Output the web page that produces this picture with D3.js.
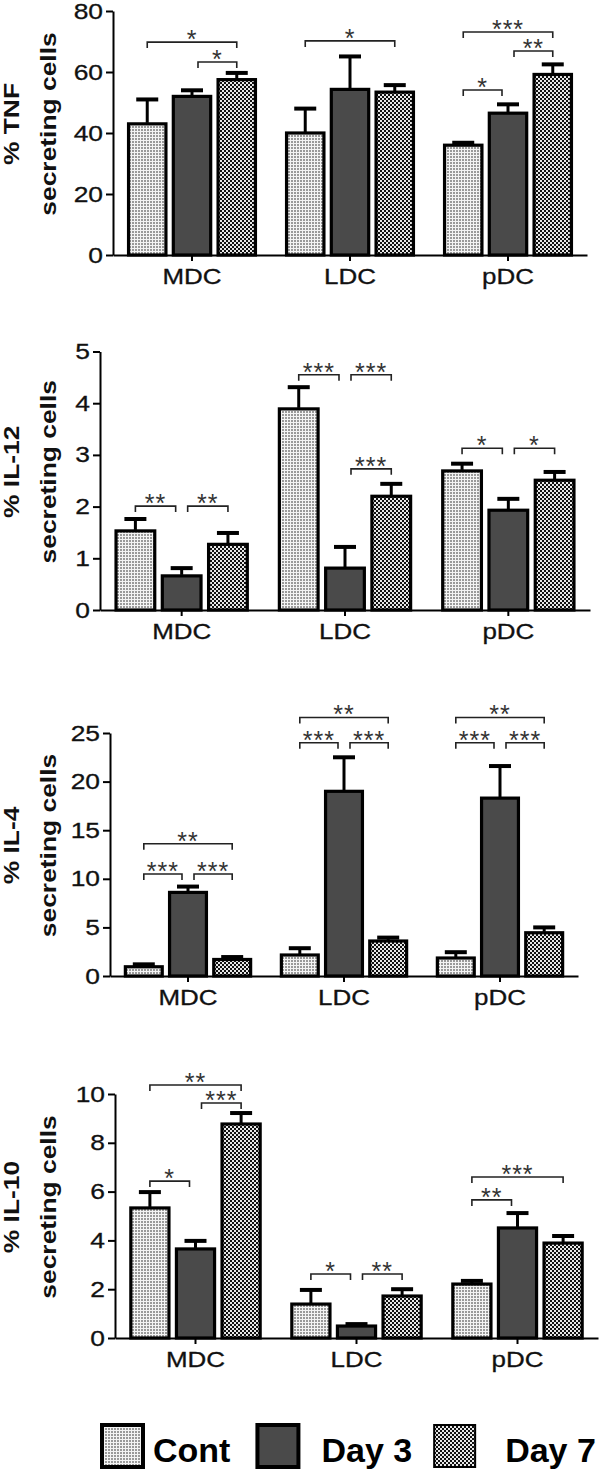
<!DOCTYPE html>
<html><head><meta charset="utf-8">
<script src="https://cdn.jsdelivr.net/npm/d3@7"></script>
<style>body{margin:0;background:#fff}svg{display:block}</style>
</head><body>
<svg id="c" width="600" height="1474"></svg>
<script>
// ---------------- data ----------------
const groups = ["MDC", "LDC", "pDC"];
const series = ["Cont", "Day 3", "Day 7"];

const titleLine1 = ["% TNF", "% IL-12", "% IL-4", "% IL-10"];
const titleLine2 = ["secreting cells", "secreting cells", "secreting cells", "secreting cells"];

const tnfTicks = [0, 20, 40, 60, 80];
const il12Ticks = [0, 1, 2, 3, 4, 5];
const il4Ticks = [0, 5, 10, 15, 20, 25];
const il10Ticks = [0, 2, 4, 6, 8, 10];

// means [group][series]
const tnfMean = [[43, 52, 57.5], [40, 54.3, 53.4], [36, 46.5, 59.2]];
const tnfSem = [[8, 2, 2.2], [8, 10.8, 2.3], [0.8, 2.9, 3.3]];
const il12Mean = [[1.53, 0.66, 1.27], [3.89, 0.81, 2.2], [2.69, 1.93, 2.51]];
const il12Sem = [[0.23, 0.15, 0.22], [0.42, 0.41, 0.24], [0.14, 0.22, 0.16]];
const il4Mean = [[0.95, 8.6, 1.7], [2.16, 19.0, 3.6], [1.85, 18.3, 4.45]];
const il4Sem = [[0.25, 0.6, 0.25], [0.7, 3.5, 0.35], [0.6, 3.3, 0.55]];
const il10Mean = [[5.33, 3.65, 8.77], [1.39, 0.49, 1.72], [2.21, 4.51, 3.89]];
const il10Sem = [[0.65, 0.33, 0.45], [0.58, 0.08, 0.28], [0.13, 0.61, 0.29]];

// significance brackets: [group, seriesA, seriesB, level (data units), label]
const tnfSig = [[0, 0, 2, 69.8, "*"], [0, 1, 2, 63.3, "*"], [1, 0, 2, 70.2, "*"],
                [2, 0, 2, 73.1, "***"], [2, 1, 2, 66.9, "**"], [2, 0, 1, 54.1, "*"]];
const il12Sig = [[0, 0, 1, 2.01, "**"], [0, 1, 2, 2.01, "**"],
                 [1, 0, 1, 4.55, "***"], [1, 1, 2, 4.55, "***"], [1, 1, 2, 2.73, "***"],
                 [2, 0, 1, 3.13, "*"], [2, 1, 2, 3.13, "*"]];
const il4Sig = [[0, 0, 2, 13.6, "**"], [0, 0, 1, 10.5, "***"], [0, 1, 2, 10.5, "***"],
                [1, 0, 2, 26.6, "**"], [1, 0, 1, 24.0, "***"], [1, 1, 2, 24.0, "***"],
                [2, 0, 2, 26.6, "**"], [2, 0, 1, 24.0, "***"], [2, 1, 2, 24.0, "***"]];
const il10Sig = [[0, 0, 2, 10.37, "**"], [0, 1, 2, 9.63, "***"], [0, 0, 1, 6.43, "*"],
                 [1, 0, 1, 2.62, "*"], [1, 1, 2, 2.62, "**"],
                 [2, 0, 2, 6.6, "***"], [2, 0, 1, 5.66, "**"]];

// ---------------- layout ----------------
const panels = [
  {mean: tnfMean, sem: tnfSem, ticks: tnfTicks, sig: tnfSig, left: 113, right: 587, y0: 255, yTop: 11},
  {mean: il12Mean, sem: il12Sem, ticks: il12Ticks, sig: il12Sig, left: 100, right: 590, y0: 610, yTop: 351.5},
  {mean: il4Mean, sem: il4Sem, ticks: il4Ticks, sig: il4Sig, left: 110, right: 578, y0: 976, yTop: 733},
  {mean: il10Mean, sem: il10Sem, ticks: il10Ticks, sig: il10Sig, left: 115, right: 598, y0: 1338, yTop: 1094}
];

const FONT = "'Liberation Sans', Arial, Helvetica, sans-serif";
const svg = d3.select("#c");
const defs = svg.append("defs");

// Patterns
const pc = defs.append("pattern").attr("id", "pCont").attr("patternUnits", "userSpaceOnUse")
  .attr("width", 3).attr("height", 3);
pc.append("rect").attr("width", 3).attr("height", 3).attr("fill", "#f4f4f4");
pc.append("rect").attr("width", 2).attr("height", 2).attr("fill", "#9a9a9a");
const p7 = defs.append("pattern").attr("id", "pDay7").attr("patternUnits", "userSpaceOnUse")
  .attr("width", 4).attr("height", 4);
p7.append("rect").attr("width", 4).attr("height", 4).attr("fill", "#111");
p7.append("rect").attr("x", 0).attr("y", 0).attr("width", 2).attr("height", 2).attr("fill", "#e8e8e8");
p7.append("rect").attr("x", 2).attr("y", 2).attr("width", 2).attr("height", 2).attr("fill", "#e8e8e8");

const fills = d3.scaleOrdinal().domain(series).range(["url(#pCont)", "#4a4a4a", "url(#pDay7)"]);

panels.forEach((p, pi) => {
  const g = svg.append("g");
  const yMax = p.ticks[p.ticks.length - 1];
  const y = d3.scaleLinear().domain([0, yMax]).range([p.y0, p.yTop]);
  const x0 = d3.scaleBand().domain(groups).range([p.left, p.right]).padding(0);
  const x1 = d3.scaleBand().domain(series).range([0, x0.bandwidth()])
    .paddingInner(0.12).paddingOuter(0.325);
  const bw = x1.bandwidth();

  // title
  const tg = g.append("g").attr("transform", `translate(0,${(p.y0 + p.yTop) / 2 - 9}) rotate(-90)`);
  [titleLine1[pi], titleLine2[pi]].forEach((t, li) => {
    tg.append("text").text(t)
      .attr("x", 0).attr("y", li === 0 ? 19 : 56)
      .attr("text-anchor", "middle")
      .attr("transform", "scale(1.2,1)")
      .style("font-family", FONT).style("font-weight", "bold").style("font-size", "22px")
      .attr("fill", "#111");
  });

  // bars
  const bg = g.append("g");
  groups.forEach((gr, gi) => {
    series.forEach((s, si) => {
      const v = p.mean[gi][si], e = p.sem[gi][si];
      const cx = x0(gr) + x1(s) + bw / 2;
      bg.append("rect")
        .attr("x", x0(gr) + x1(s) + 1).attr("width", bw - 2)
        .attr("y", y(v)).attr("height", y(0) - y(v))
        .attr("fill", fills(s)).attr("stroke", "#000").attr("stroke-width", 3.2);
      bg.append("line").attr("x1", cx).attr("x2", cx).attr("y1", y(v) - 1).attr("y2", y(v + e))
        .attr("stroke", "#000").attr("stroke-width", 3);
      bg.append("line").attr("x1", cx - 11).attr("x2", cx + 11).attr("y1", y(v + e)).attr("y2", y(v + e))
        .attr("stroke", "#000").attr("stroke-width", 4);
    });
  });

  // axes
  const ya = g.append("g").attr("transform", `translate(${p.left},0)`)
    .call(d3.axisLeft(y).tickValues(p.ticks).tickSize(7).tickSizeOuter(0).tickPadding(3).tickFormat(d3.format("d")));
  ya.select(".domain").attr("stroke", "#000").attr("stroke-width", 2);
  ya.selectAll(".tick line").attr("stroke", "#000").attr("stroke-width", 2);
  ya.selectAll(".tick text").each(function () {
    const t = d3.select(this);
    const xx = +t.attr("x");
    t.attr("x", 0).attr("transform", `translate(${xx},0) scale(1.2,1)`);
  }).style("font-family", FONT).style("font-size", "22px").attr("fill", "#111")
    .attr("stroke", "#111").attr("stroke-width", 0.3);

  const xa = g.append("g").attr("transform", `translate(0,${p.y0})`)
    .call(d3.axisBottom(x0).tickSize(6).tickSizeOuter(0).tickPadding(7));
  xa.select(".domain").attr("stroke", "#000").attr("stroke-width", 2);
  xa.selectAll(".tick line").attr("stroke", "#000").attr("stroke-width", 2);
  xa.selectAll(".tick text").attr("transform", "scale(1.18,1)")
    .style("font-family", FONT).style("font-size", "22px").attr("fill", "#111")
    .attr("stroke", "#111").attr("stroke-width", 0.3);

  // significance brackets
  const sg = g.append("g");
  p.sig.forEach(([gi, a, b, lvl, lab]) => {
    const gr = groups[gi];
    const ca = x0(gr) + x1(series[a]) + bw / 2;
    const cb = x0(gr) + x1(series[b]) + bw / 2;
    const adjacent = (b - a) === 1;
    const xa1 = ca + (adjacent && a === 1 ? 6 : 0);
    const xb1 = cb - (adjacent && b === 1 ? 6 : 0);
    const yy = y(lvl);
    sg.append("path")
      .attr("d", `M${xa1},${yy + 6}V${yy}H${xb1}V${yy + 6}`)
      .attr("fill", "none").attr("stroke", "#222").attr("stroke-width", 1.6);
    sg.append("text").text(lab)
      .attr("x", (xa1 + xb1) / 2).attr("y", yy + 6)
      .attr("text-anchor", "middle")
      .style("font-family", FONT).style("font-size", "25px").style("letter-spacing", "1px")
      .attr("fill", "#333");
  });
});

// legend
const lg = svg.append("g");
let lx = 102;
const textGap = [51, 64, 71];
const afterGap = [27, 22, 0];
series.forEach((s, i) => {
  lg.append("rect").attr("x", lx).attr("y", 1425).attr("width", 41).attr("height", 42)
    .attr("fill", fills(s)).attr("stroke", "#000").attr("stroke-width", i === 2 ? 2 : 4);
  const t = lg.append("text").text(s)
    .attr("x", lx + textGap[i]).attr("y", 1462)
    .style("font-family", FONT).style("font-weight", "bold").style("font-size", "34px")
    .attr("fill", "#000");
  const w = t.node().getComputedTextLength();
  lx = +t.attr("x") + w + afterGap[i];
});
</script>
</body></html>
